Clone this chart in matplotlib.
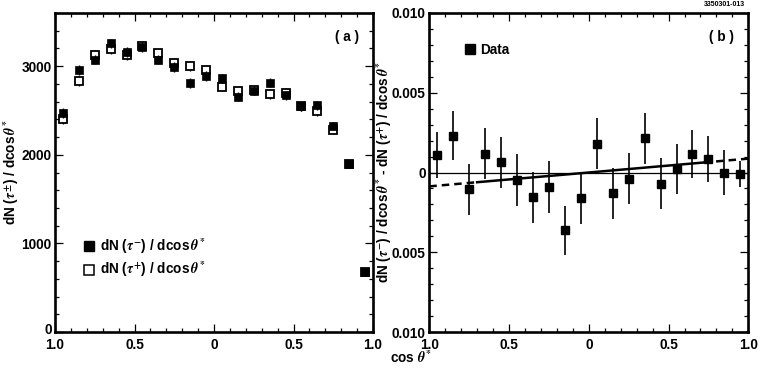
import numpy as np
import matplotlib
matplotlib.use("Agg")
import matplotlib.pyplot as plt
import matplotlib.transforms as mtransforms
from matplotlib.lines import Line2D
from matplotlib.ticker import FixedLocator, FixedFormatter, MultipleLocator

plt.rcParams['font.family'] = ['Liberation Sans', 'DejaVu Sans']
plt.rcParams['font.weight'] = 'bold'
plt.rcParams['mathtext.fontset'] = 'stix'

# ---- data ----
cos_bins = [-0.95, -0.85, -0.75, -0.65, -0.55, -0.45, -0.35, -0.25, -0.15, -0.05,
            0.05, 0.15, 0.25, 0.35, 0.45, 0.55, 0.65, 0.75, 0.85, 0.95]
n_tau_minus = [2470, 2955, 3075, 3256, 3160, 3220, 3075, 2992, 2812, 2887,
               2861, 2654, 2722, 2812, 2673, 2549, 2560, 2323, 1895, 680]
n_tau_plus = [2402, 2831, 3124, 3192, 3124, 3225, 3143, 3038, 3000, 2962,
              2767, 2718, 2729, 2684, 2699, 2549, 2492, 2278, 1895, 680]
n_err = [55, 55, 55, 55, 55, 55, 55, 55, 55, 55,
         52, 52, 52, 52, 52, 50, 50, 48, 44, 26]

asym = [0.00108, 0.00231, -0.00104, 0.00119, 0.00063, -0.00048, -0.00156, -0.00092,
        -0.00363, -0.00160, 0.00179, -0.00129, -0.00040, 0.00215, -0.00071, 0.00021,
        0.00117, 0.00083, 0.00000, -0.00008]
asym_err = [0.00143, 0.00155, 0.00160, 0.00162, 0.00162, 0.00165, 0.00160, 0.00162,
            0.00155, 0.00160, 0.00160, 0.00160, 0.00160, 0.00160, 0.00160, 0.00155,
            0.00150, 0.00145, 0.00140, 0.00080]
fit_slope = 0.00087
fit_solid_range = [-0.70, 0.72]

x_ticks = [-1.0, -0.5, 0.0, 0.5, 1.0]
x_ticklabels = ['1.0', '0.5', '0', '0.5', '1.0']
left_yticks = [0, 1000, 2000, 3000]
left_yticklabels = ['0', '1000', '2000', '3000']
right_yticks = [-0.010, -0.005, 0.0, 0.005, 0.010]
right_yticklabels = ['0.010', '0.005', '0', '0.005', '0.010']

FS = 9.8

fig = plt.figure(figsize=(7.61, 3.69), dpi=100)
axL = fig.add_axes([55/761, 37/369, 318/761, 319/369])
axR = fig.add_axes([429.3/761, 37/369, 319/761, 319/369])

def style(ax):
    for s in ax.spines.values():
        s.set_linewidth(1.9)
    ax.tick_params(which='both', direction='in', top=True, right=True,
                   width=0.9, labelsize=FS)
    ax.tick_params(axis='x', which='both', pad=4)
    ax.tick_params(axis='y', which='both', pad=2.5)
    ax.tick_params(which='major', length=6)
    ax.tick_params(which='minor', length=3)
    ax.set_xlim(-1, 1)
    ax.xaxis.set_major_locator(FixedLocator(x_ticks))
    ax.xaxis.set_major_formatter(FixedFormatter(x_ticklabels))
    ax.xaxis.set_minor_locator(MultipleLocator(0.1))

# ---- left panel ----
style(axL)
axL.set_ylim(0, 3600)
axL.yaxis.set_major_locator(FixedLocator(left_yticks))
axL.yaxis.set_major_formatter(FixedFormatter(left_yticklabels))
axL.yaxis.set_minor_locator(MultipleLocator(200))

axL.errorbar(cos_bins, n_tau_plus, yerr=n_err, fmt='s', ms=5.8, mfc='white',
             mec='black', mew=1.3, ecolor='black', elinewidth=1.0, capsize=0, zorder=3)
axL.errorbar(cos_bins, n_tau_minus, yerr=n_err, fmt='s', ms=6.2, mfc='black',
             mec='black', mew=0.5, ecolor='black', elinewidth=1.0, capsize=0, zorder=4)
hL = [Line2D([], [], ls='none', marker='s', ms=7.2, mfc='black', mec='black'),
      Line2D([], [], ls='none', marker='s', ms=6.8, mfc='white', mec='black', mew=1.1)]
axL.legend(hL, [r'dN ($\tau^{-}$) / dcos$\,\theta^{*}$', r'dN ($\tau^{+}$) / dcos$\,\theta^{*}$'],
           loc='lower left', bbox_to_anchor=(0.055, 0.135),
           frameon=False, handletextpad=0.35, labelspacing=0.3,
           handlelength=1.0, borderpad=0.2, prop={'weight': 'bold', 'size': FS})
axL.text(0.955, 0.925, '( a )', transform=axL.transAxes, ha='right', va='center',
         fontsize=FS, fontweight='bold')
axL.set_ylabel(r'dN ($\tau^{\pm}$) / dcos$\,\theta^{*}$', fontsize=FS,
               fontweight='bold', labelpad=0)

# shift the bottom "0" label of the left panel slightly up, as in the reference
fig.canvas.draw()
shift = mtransforms.ScaledTranslation(0, 4/100, fig.dpi_scale_trans)
for lab in axL.get_yticklabels():
    if lab.get_text() == '0':
        lab.set_transform(lab.get_transform() + shift)

# ---- right panel ----
style(axR)
axR.set_ylim(-0.010, 0.010)
axR.yaxis.set_major_locator(FixedLocator(right_yticks))
axR.yaxis.set_major_formatter(FixedFormatter(right_yticklabels))
axR.yaxis.set_minor_locator(MultipleLocator(0.001))

axR.axhline(0, color='black', lw=0.9, zorder=1)
xs_solid = np.array(fit_solid_range)
axR.plot(xs_solid, fit_slope * xs_solid, color='black', lw=1.8, zorder=2)
xs_l = np.array([-1.0, fit_solid_range[0]])
xs_r = np.array([fit_solid_range[1], 1.0])
axR.plot(xs_l, fit_slope * xs_l, color='black', lw=1.8, ls=(0, (3, 2)), zorder=2)
axR.plot(xs_r, fit_slope * xs_r, color='black', lw=1.8, ls=(0, (3, 2)), zorder=2)
axR.errorbar(cos_bins, asym, yerr=asym_err, fmt='s', ms=6.2, mfc='black', mec='black',
             ecolor='black', elinewidth=1.2, capsize=0, zorder=4)
hR = [Line2D([], [], ls='none', marker='s', ms=7.5, mfc='black', mec='black')]
axR.legend(hR, ['Data'], loc='upper left', bbox_to_anchor=(0.075, 0.935), frameon=False,
           handletextpad=0.3, handlelength=1.0, borderpad=0.2,
           prop={'weight': 'bold', 'size': FS})
axR.text(0.955, 0.925, '( b )', transform=axR.transAxes, ha='right', va='center',
         fontsize=FS, fontweight='bold')
axR.set_ylabel(r'dN ($\tau^{-}$) / dcos$\,\theta^{*}$ - dN ($\tau^{+}$) / dcos$\,\theta^{*}$',
               fontsize=FS, fontweight='bold', labelpad=-1.5)

fig.text(411/761, 1 - 358/369, r'cos $\theta^{*}$', ha='center', va='center',
         fontsize=FS, fontweight='bold')
fig.text(745/761, 1 - 5/369, '3350301-013', ha='right', va='center', fontsize=5)

fig.savefig('out.png', dpi=100)
